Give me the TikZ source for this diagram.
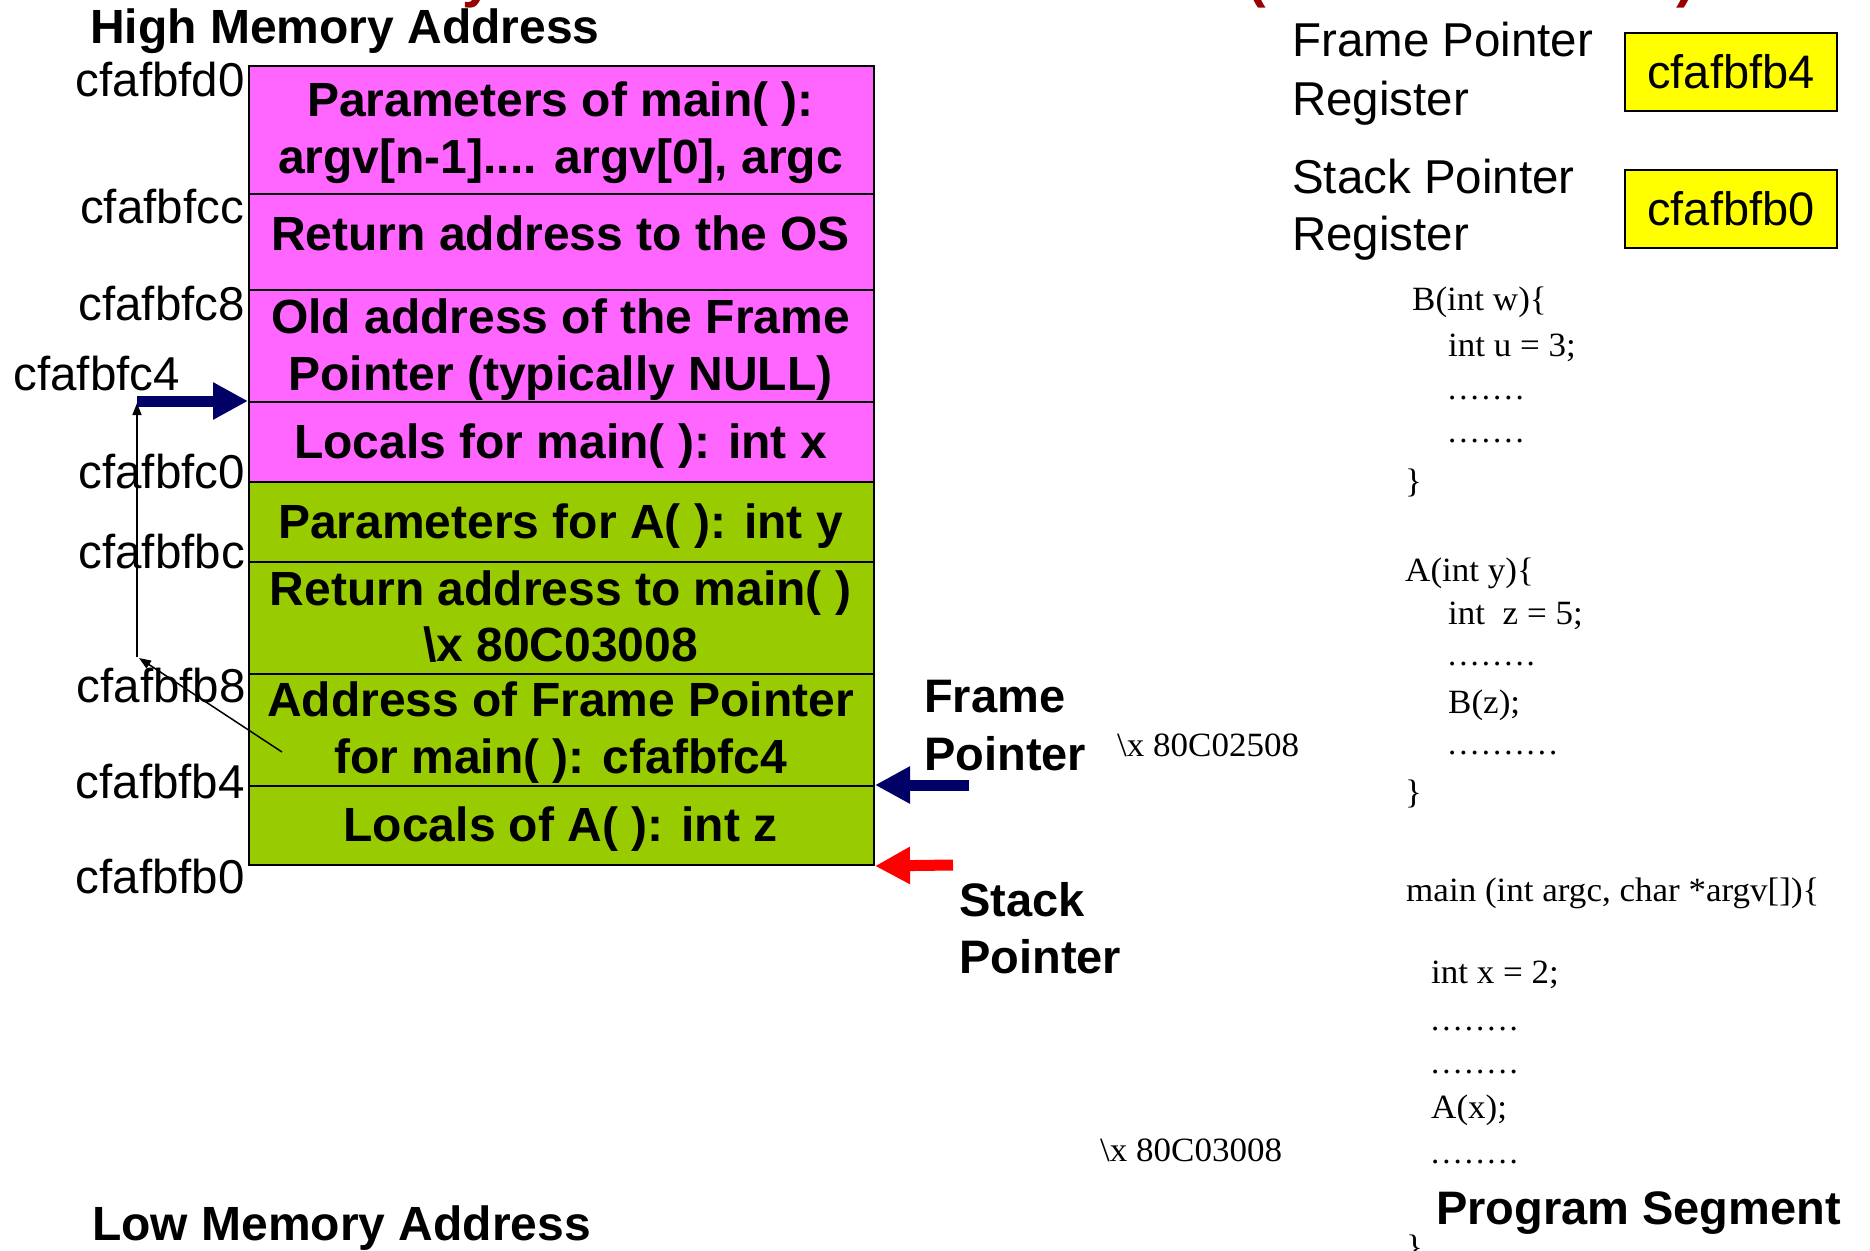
\documentclass[tikz,border=0pt]{standalone}
\usepackage{fontspec}
\setmainfont{Liberation Sans}
\newfontfamily\codefont[FakeStretch=1.03]{Liberation Serif}
\newfontfamily\dotfont[LetterSpace=9]{Liberation Serif}
\usetikzlibrary{arrows.meta}
\definecolor{magcell}{RGB}{255,102,255}
\definecolor{grncell}{RGB}{153,204,0}
\definecolor{navyarr}{RGB}{0,0,102}
\definecolor{titlered}{RGB}{153,0,0}
\definecolor{regyellow}{RGB}{255,255,0}
\tikzset{
  cell/.style={draw=black, line width=2pt, rectangle, inner sep=0pt, anchor=north west, minimum width=625pt},
  celltext/.style={font=\fontsize{48}{56}\selectfont\bfseries, anchor=base, inner sep=0pt},
  addr/.style={font=\fontsize{47.5}{55}\selectfont, anchor=base east, inner sep=0pt},
  boldlabel/.style={font=\fontsize{47}{56}\selectfont\bfseries, anchor=base west, inner sep=0pt},
  headlabel/.style={font=\fontsize{48}{56}\selectfont\bfseries, anchor=base west, inner sep=0pt},
  reglabel/.style={font=\fontsize{47.5}{56}\selectfont, anchor=base west, inner sep=0pt},
  regbox/.style={draw=black, line width=2pt, fill=regyellow, rectangle, inner sep=0pt, anchor=north west, minimum width=212pt, minimum height=78pt, font=\fontsize{47}{56}\selectfont},
  code/.style={font=\fontsize{34}{40}\selectfont\codefont, anchor=base west, inner sep=0pt},
  codedots/.style={font=\fontsize{33}{40}\selectfont\dotfont, anchor=base west, inner sep=0pt},
  fragment/.style={font=\fontsize{56}{60}\selectfont\bfseries, text=titlered, anchor=base west, inner sep=0pt},
  bigarrow/.style={line width=11pt, -{Triangle[length=35pt,width=35pt]}},
  thinarrow/.style={line width=1.5pt, black, -{Triangle[length=12pt,width=9pt]}}
}
\begin{document}
\begin{tikzpicture}[x=1pt,y=-1pt]
\useasboundingbox (0,0) rectangle (1870,1250);

% cut-off title fragments at the top edge
\node[fragment] (fy) at (462,-4) {y};
\node[fragment] (fl) at (1247,-4) {(};
\node[fragment] (fr) at (1676,-4) {)};

% stack cells
\node[cell, fill=magcell, minimum height=128pt] (c1) at (248,65) {};
\node[cell, fill=magcell, minimum height=96pt]  (c2) at (248,193) {};
\node[cell, fill=magcell, minimum height=112pt] (c3) at (248,289) {};
\node[cell, fill=magcell, minimum height=80pt]  (c4) at (248,401) {};
\node[cell, fill=grncell, minimum height=80pt]  (c5) at (248,481) {};
\node[cell, fill=grncell, minimum height=112pt] (c6) at (248,561) {};
\node[cell, fill=grncell, minimum height=112pt] (c7) at (248,673) {};
\node[cell, fill=grncell, minimum height=79pt]  (c8) at (248,785) {};

% cell texts
\node[celltext] (t1a) at (560.5,116.7) {Parameters of main( ):};
\node[celltext] (t1b) at (560.5,173.3) {argv[n-1].... argv[0], argc};
\node[celltext] (t2)  at (560.5,250)   {Return address to the OS};
\node[celltext] (t3a) at (560.5,333)   {Old address of the Frame};
\node[celltext] (t3b) at (560.5,390)   {Pointer (typically NULL)};
\node[celltext] (t4)  at (560.5,458.3) {Locals for main( ): int x};
\node[celltext] (t5)  at (560.5,538.3) {Parameters for A( ): int y};
\node[celltext] (t6a) at (560.5,605)   {Return address to main( )};
\node[celltext] (t6b) at (560.5,661.7) {\textbackslash x 80C03008};
\node[celltext] (t7a) at (560.5,716.7) {Address of Frame Pointer};
\node[celltext] (t7b) at (560.5,773.3) {for main( ): cfafbfc4};
\node[celltext] (t8)  at (560.5,841.7) {Locals of A( ): int z};

% headings
\node[headlabel] (high) at (90,43.3) {High Memory Address};
\node[headlabel] (low)  at (92,1240.7) {Low Memory Address};

% addresses
\node[addr] (a0) at (245,96.7)  {cfafbfd0};
\node[addr] (a1) at (244,223.3) {cfafbfcc};
\node[addr] (a2) at (245,320)   {cfafbfc8};
\node[addr] (a3) at (180,390)   {cfafbfc4};
\node[addr] (a4) at (245,488.3) {cfafbfc0};
\node[addr] (a5) at (245,568.3) {cfafbfbc};
\node[addr] (a6) at (246,702.7) {cfafbfb8};
\node[addr] (a7) at (245,798.3) {cfafbfb4};
\node[addr] (a8) at (245,893)   {cfafbfb0};

% saved frame pointer link
\coordinate (linkstart) at (282,752);
\coordinate (corner) at (137,657);
\coordinate (linktop) at (137,403);
\coordinate (fpold) at (137,401);
\draw[thinarrow] (linkstart) -- (139,658);
\draw[thinarrow] (corner) -- (linktop);
\draw[bigarrow, navyarr] (fpold) -- (c4.north west);

% pointer labels and arrows
\node[boldlabel] (fplab1) at (924,712.7) {Frame};
\node[boldlabel] (fplab2) at (924,770)   {Pointer};
\node[boldlabel] (splab1) at (959,916.7) {Stack};
\node[boldlabel] (splab2) at (959,973.3) {Pointer};
\coordinate (fptail) at (969,785);
\coordinate (sptail) at (953,865);
\draw[bigarrow, navyarr] (fptail) -- (c8.north east);
\draw[bigarrow, red] (sptail) -- (c8.south east);

% registers
\node[reglabel] (fpr1) at (1292,56.7)  {Frame Pointer};
\node[reglabel] (fpr2) at (1292,115)   {Register};
\node[reglabel] (spr1) at (1292,193.3) {Stack Pointer};
\node[reglabel] (spr2) at (1292,250)   {Register};
\node[regbox] (fpbox) at (1624,32)  {cfafbfb4};
\node[regbox] (spbox) at (1624,169) {cfafbfb0};

% program segment
\node[code] (b1) at (1412,310)   {B(int w)\{};
\node[code] (b2) at (1448,356.4) {int u = 3;};
\node[codedots] (b3) at (1448,399) {.......};
\node[codedots] (b4) at (1448,442) {.......};
\node[code] (b5) at (1405,492)   {\}};
\node[code] (aa1) at (1405,581.4) {A(int y)\{};
\node[code] (aa2) at (1448,624.3) {int\ \ z = 5;};
\node[codedots] (aa3) at (1448,665) {........};
\node[code] (aa4) at (1448,713.6) {B(z);};
\node[codedots] (aa5) at (1448,754.6) {..........};
\node[code] (aa6) at (1405,803) {\}};
\node[code] (ret1) at (1117,756.4) {\textbackslash x 80C02508};
\node[code] (m1) at (1406,901.7) {main (int argc, char *argv[])\{};
\node[code] (m2) at (1431,983.3) {int x = 2;};
\node[codedots] (m3) at (1431,1030) {........};
\node[codedots] (m4) at (1431,1073.3) {........};
\node[code] (m5) at (1431,1118.3) {A(x);};
\node[codedots] (m6) at (1431,1163.3) {........};
\node[code] (m7) at (1406,1258) {\}};
\node[code] (ret2) at (1100,1161.7) {\textbackslash x 80C03008};
\node[boldlabel] (progseg) at (1436,1224) {Program Segment};
\end{tikzpicture}
\end{document}
